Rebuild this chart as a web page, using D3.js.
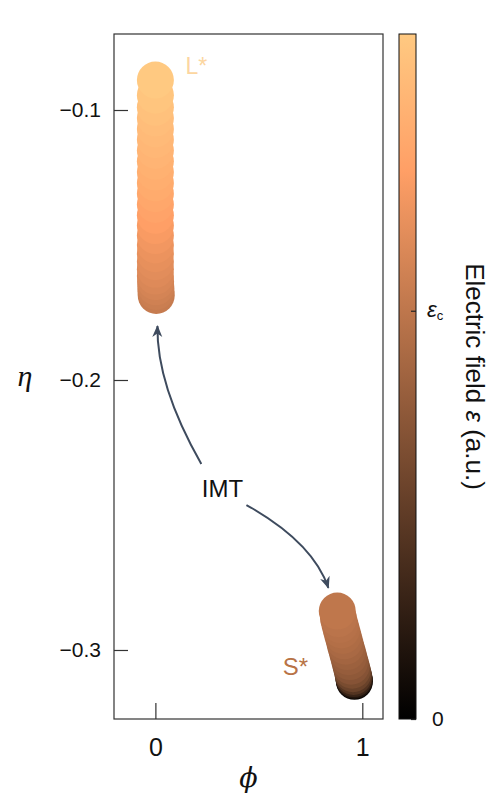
<!DOCTYPE html>
<html>
<head>
<meta charset="utf-8">
<script src="https://cdn.jsdelivr.net/npm/d3@7"></script>
<style>
  body { margin: 0; background: #fff; }
  svg { font-family: "Liberation Sans", Arial, sans-serif; }
</style>
</head>
<body>
<script>
// L* branch (metallic state), phi = 0, listed from low to high field
const lPhi = [0.004, 0.003, 0.002, 0.001, 0, 0, 0, 0, 0, 0, 0, 0, 0, 0, 0, 0, 0, 0, 0, 0, 0, 0, 0, 0];
const lEta = [-0.1687, -0.1672, -0.1655, -0.1636, -0.1615, -0.1590, -0.1562, -0.1532,
              -0.1500, -0.1465, -0.1428, -0.1390, -0.1350, -0.1310, -0.1270, -0.1230,
              -0.1190, -0.1150, -0.1110, -0.1070, -0.1030, -0.0990, -0.0945, -0.0889];
const lField = [0.62, 0.635, 0.65, 0.665, 0.68, 0.695, 0.71, 0.725,
                0.74, 0.76, 0.78, 0.80, 0.82, 0.84, 0.855, 0.87,
                0.885, 0.90, 0.915, 0.93, 0.945, 0.96, 0.98, 1.00];

// S* branch (insulating state), listed from low to high field
const sPhi = [0.962, 0.961, 0.960, 0.958, 0.955, 0.951, 0.946, 0.940, 0.934, 0.927,
              0.920, 0.913, 0.906, 0.899, 0.892, 0.885, 0.879];
const sEta = [-0.3116, -0.3112, -0.3106, -0.3098, -0.3088, -0.3075, -0.3060, -0.3043,
              -0.3025, -0.3006, -0.2986, -0.2966, -0.2946, -0.2926, -0.2906, -0.2884, -0.2856];
const sField = [0.03, 0.10, 0.18, 0.26, 0.33, 0.38, 0.42, 0.45, 0.47, 0.49,
                0.51, 0.53, 0.545, 0.56, 0.57, 0.585, 0.60];

// axes
const xTicks = [0, 1];
const yTicks = [-0.1, -0.2, -0.3];
const fieldCritical = 0.596;

// IMT arrows, [phi, eta] for start, control, end
const arrowUp = [[0.222, -0.2311], [0.005, -0.2019], [0.01, -0.1800]];
const arrowDown = [[0.440, -0.2463], [0.762, -0.2601], [0.836, -0.2770]];

const width = 491, height = 800;
const plotLeft = 114, plotRight = 383, plotTop = 34, plotBottom = 719;

const svg = d3.select('body').append('svg')
  .attr('width', width)
  .attr('height', height);

const x = d3.scaleLinear().domain([-0.2, 1.1]).range([plotLeft, plotRight]);
const y = d3.scaleLinear().domain([-0.32556, -0.07185]).range([plotBottom, plotTop]);

// matplotlib "copper"
const copper = d3.scaleLinear()
  .domain([0, 0.8, 1])
  .range(['#000000', '#ff9f66', '#ffc981']);

const defs = svg.append('defs');
defs.append('marker')
  .attr('id', 'head')
  .attr('viewBox', '-12 -6 14 12')
  .attr('markerUnits', 'userSpaceOnUse')
  .attr('markerWidth', 14)
  .attr('markerHeight', 12)
  .attr('refX', 0)
  .attr('refY', 0)
  .attr('orient', 'auto')
  .append('path')
  .attr('d', 'M1,0 L-11,-5 L-7.5,0 L-11,5 Z')
  .attr('fill', '#3e4b5e');

// Points
const lPoints = lPhi.map((p, i) => ({ phi: p, eta: lEta[i], f: lField[i] }));
const sPoints = sPhi.map((p, i) => ({ phi: p, eta: sEta[i], f: sField[i] }));

svg.append('g')
  .selectAll('circle')
  .data(lPoints.concat(sPoints))
  .enter()
  .append('circle')
  .attr('cx', d => x(d.phi))
  .attr('cy', d => y(d.eta))
  .attr('r', 18.5)
  .attr('fill', d => copper(d.f));

// Arrows
const curve = pts => {
  const p = d3.path();
  p.moveTo(x(pts[0][0]), y(pts[0][1]));
  p.quadraticCurveTo(x(pts[1][0]), y(pts[1][1]), x(pts[2][0]), y(pts[2][1]));
  return p.toString();
};
svg.selectAll('.arrow')
  .data([arrowUp, arrowDown])
  .enter()
  .append('path')
  .attr('class', 'arrow')
  .attr('d', curve)
  .attr('fill', 'none')
  .attr('stroke', '#3e4b5e')
  .attr('stroke-width', 2)
  .attr('marker-end', 'url(#head)');

svg.append('text')
  .attr('x', x(0.324))
  .attr('y', y(-0.24) + 9)
  .attr('text-anchor', 'middle')
  .attr('font-size', 24)
  .attr('fill', '#111')
  .text('IMT');

svg.append('text')
  .attr('x', x(0.145))
  .attr('y', y(-0.0867))
  .attr('font-size', 23)
  .attr('fill', '#fcd6a0')
  .text('L*');

svg.append('text')
  .attr('x', x(0.616))
  .attr('y', y(-0.3093))
  .attr('font-size', 24)
  .attr('fill', '#b87346')
  .text('S*');

// Axes
const axisY = svg.append('g')
  .attr('transform', `translate(${plotLeft},0)`)
  .call(d3.axisLeft(y).tickValues(yTicks).tickFormat(d3.format('.1f'))
    .tickSize(-14).tickPadding(13));
axisY.selectAll('text').attr('font-size', 21).attr('fill', '#111');

const axisX = svg.append('g')
  .attr('transform', `translate(0,${plotBottom})`)
  .call(d3.axisBottom(x).tickValues(xTicks).tickFormat(d3.format('d'))
    .tickSize(-16).tickPadding(19));
axisX.selectAll('text').attr('font-size', 25).attr('fill', '#111');

svg.selectAll('.domain').remove();
svg.selectAll('.tick line').attr('stroke', '#333').attr('stroke-width', 1.2);

svg.append('rect')
  .attr('x', plotLeft)
  .attr('y', plotTop)
  .attr('width', plotRight - plotLeft)
  .attr('height', plotBottom - plotTop)
  .attr('fill', 'none')
  .attr('stroke', '#333')
  .attr('stroke-width', 1.2);

svg.append('text')
  .attr('x', (plotLeft + plotRight) / 2)
  .attr('y', 787)
  .attr('text-anchor', 'middle')
  .attr('font-family', '"DejaVu Serif", serif')
  .attr('font-style', 'italic')
  .attr('font-size', 27)
  .attr('fill', '#111')
  .text('\u03d5');

svg.append('text')
  .attr('x', 25)
  .attr('y', 386)
  .attr('text-anchor', 'middle')
  .attr('font-family', '"Liberation Serif", serif')
  .attr('font-style', 'italic')
  .attr('font-size', 30)
  .attr('fill', '#111')
  .text('\u03b7');

// Colour bar
const cbLeft = 399, cbRight = 416;
const cb = d3.scaleLinear().domain([0, 1]).range([plotBottom, plotTop]);

const grad = defs.append('linearGradient')
  .attr('id', 'copper')
  .attr('x1', 0).attr('y1', 1)
  .attr('x2', 0).attr('y2', 0);
grad.selectAll('stop')
  .data(copper.domain())
  .enter()
  .append('stop')
  .attr('offset', d => d)
  .attr('stop-color', d => copper(d));

svg.append('rect')
  .attr('x', cbLeft)
  .attr('y', plotTop)
  .attr('width', cbRight - cbLeft)
  .attr('height', plotBottom - plotTop)
  .attr('fill', 'url(#copper)')
  .attr('stroke', '#111')
  .attr('stroke-width', 1);

const cbAxis = svg.append('g')
  .attr('transform', `translate(${cbRight},0)`)
  .call(d3.axisRight(cb).tickValues([0, fieldCritical]).tickSize(-5).tickPadding(16)
    .tickFormat(d => d === 0 ? '0' : ''));
cbAxis.select('.domain').remove();
cbAxis.selectAll('.tick line').attr('stroke', '#222').attr('stroke-width', 1.2);
cbAxis.selectAll('text').attr('font-size', 21).attr('fill', '#111');

const ec = svg.append('text')
  .attr('x', 427)
  .attr('y', cb(fieldCritical) + 6)
  .attr('font-size', 22)
  .attr('fill', '#111');
ec.append('tspan').attr('font-style', 'italic').text('\u03b5');
ec.append('tspan').attr('font-size', 13).attr('dy', 3).text('c');

const label = svg.append('text')
  .attr('transform', `translate(466,${(plotTop + plotBottom) / 2}) rotate(90)`)
  .attr('text-anchor', 'middle')
  .attr('font-size', 26)
  .attr('fill', '#111');
label.append('tspan').text('Electric field ');
label.append('tspan').attr('font-style', 'italic').text('\u03b5');
label.append('tspan').text(' (a.u.)');
</script>
</body>
</html>
